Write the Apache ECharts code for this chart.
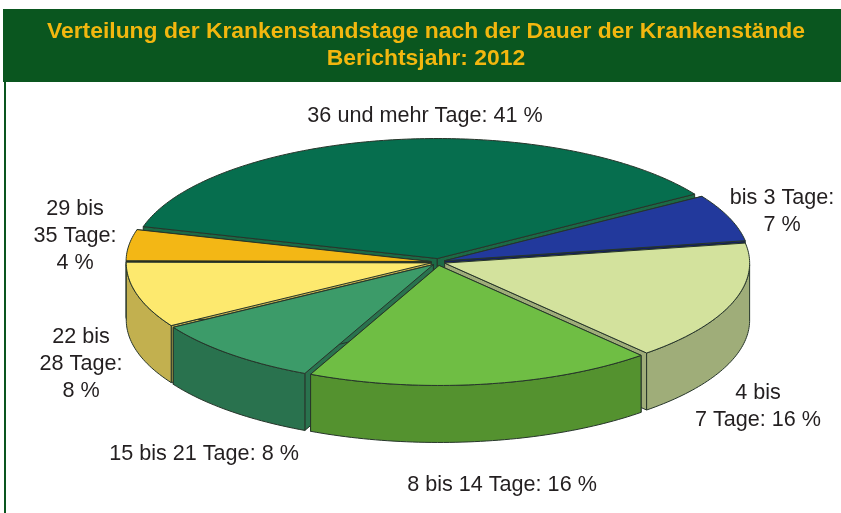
<!DOCTYPE html>
<html><head><meta charset="utf-8">
<style>html,body{margin:0;padding:0;background:#fff}#c{width:841px;height:513px}</style>
<script src="https://cdn.jsdelivr.net/npm/echarts@6/dist/echarts.min.js"></script>
</head><body><div id="c"></div>
<script>
const titleText = 'Verteilung der Krankenstandstage nach der Dauer der Krankenstände\nBerichtsjahr: 2012';
const categories = ['bis 3 Tage','4 bis\n7 Tage','8 bis 14 Tage','15 bis 21 Tage','22 bis\n28 Tage','29 bis\n35 Tage','36 und mehr Tage'];
const values = [7,16,16,8,8,4,41];
const valueOnNewLine = [true,false,false,false,true,true,false];
const topColors = ['#22399c','#d3e29d','#6fbe44','#3c9b69','#fde96e','#f3b715','#066e4e'];
const wallColors = ['#141f5c','#9fad79','#54922f','#29724e','#c2b04f','#2e2410','#1c6a46'];
const labelCenters = [[782,212],[758,407],[502,485],[204,454],[81,364],[75,236],[425,116]];

const CX=438, CY=262, RX=305, RY=120, DEPTH=57, EXPLODE=7, START=113, PERSP=1.2, TILT=3, SKEW=4, SKEW_PHASE=26;
const EDGE='#26352a', total=values.reduce((a,b)=>a+b,0), rad=Math.PI/180;
const psi = t => {
  const w=t+SKEW*Math.cos((t+SKEW_PHASE)*rad);
  return TILT*rad + 2*Math.atan2(PERSP*Math.sin(w*rad/2), Math.cos(w*rad/2));
};
const starts=[]; values.reduce((acc,v,i)=>{starts[i]=acc; return acc-v/total*360;},START);

function renderSlice(params, api){
  const i=params.dataIndex, v=api.value(0), a0=starts[i], a1=a0-v/total*360;
  const mid=psi((a0+a1)/2);
  const ox=CX+EXPLODE*Math.sin(mid), oy=CY+EXPLODE*0.5*Math.cos(mid);
  const rim=[]; const n=Math.max(8,Math.ceil(Math.abs(a1-a0)));
  for(let k=0;k<=n;k++){const p=psi(a0+(a1-a0)*k/n); rim.push([ox+RX*Math.sin(p),oy+RY*Math.cos(p),Math.cos(p)]);}
  const tip=[ox,oy], down=q=>[q[0],q[1]+DEPTH];
  const xy=q=>[q[0],q[1]];
  const poly=(pts,fill,z)=>({type:'polygon',z2:z,shape:{points:pts},style:{fill,stroke:EDGE,lineWidth:1,lineJoin:'round'}});
  const base=Math.round(100+100*Math.cos(mid))*3;
  const children=[
    poly([tip,xy(rim[0]),down(rim[0]),down(tip)],wallColors[i],base),
    poly([tip,xy(rim[n]),down(rim[n]),down(tip)],wallColors[i],base)
  ];
  const front=rim.filter(q=>q[2]>=0);
  if(front.length>1){
    children.push(poly(front.map(xy).concat(front.slice().reverse().map(down)),wallColors[i],base+1));
  }
  children.push(poly([tip].concat(rim.map(xy)),topColors[i],base+2));
  const c=labelCenters[i];
  children.push({type:'text',z2:1000,style:{
    text:categories[i]+':'+(valueOnNewLine[i]?'\n':' ')+v+' %',
    x:c[0],y:c[1],align:'center',verticalAlign:'middle',textAlign:'center',textVerticalAlign:'middle',
    fontFamily:'Liberation Sans',fontSize:21.6,lineHeight:27,fill:'#231f20'}});
  return {type:'group',children};
}

const chart=echarts.init(document.getElementById('c'),null,{renderer:'canvas'});
chart.setOption({
  animation:false,
  title:{text:titleText,left:421,top:13,textAlign:'center',textStyle:{color:'#f2b70f',fontFamily:'Liberation Sans',fontWeight:'bold',fontSize:22.9,lineHeight:27}},
  graphic:[
    {type:'rect',z:0,shape:{x:3,y:9,width:838,height:73},style:{fill:'#0a561f'}},
    {type:'rect',z:0,shape:{x:4,y:82,width:2,height:431},style:{fill:'#0a561f'}}
  ],
  series:[{type:'custom',coordinateSystem:'none',silent:true,renderItem:renderSlice,data:values.map(v=>[v])}]
});
</script></body></html>
